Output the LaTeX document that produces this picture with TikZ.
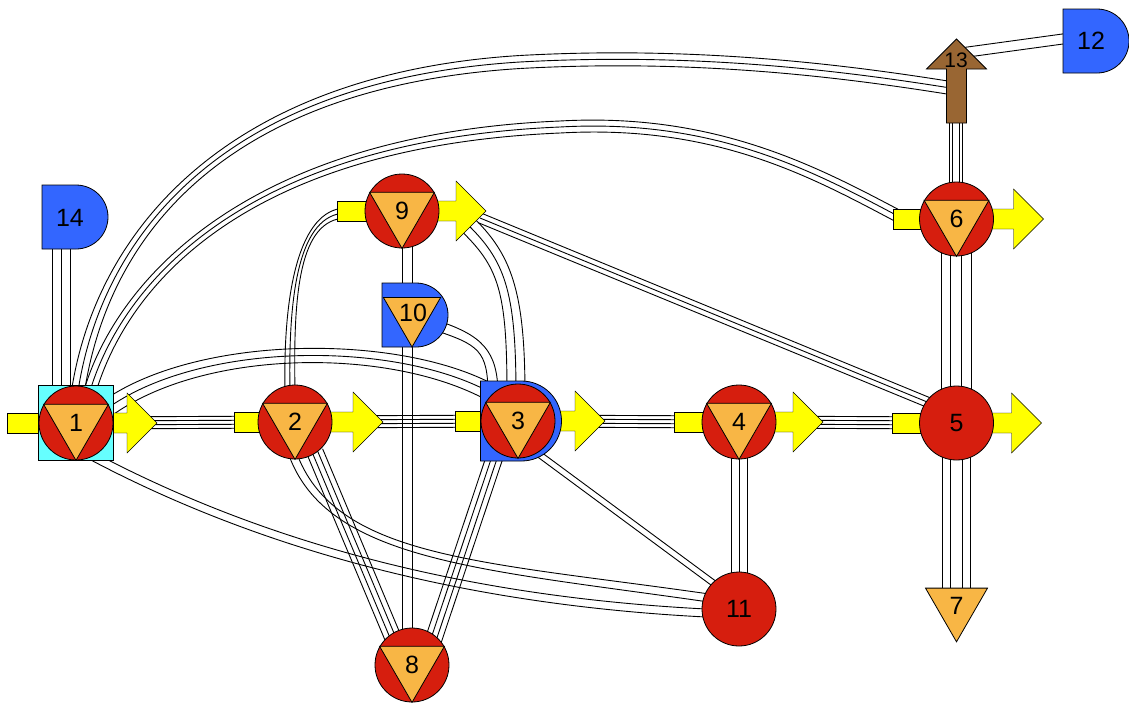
\documentclass[tikz,border=0pt]{standalone}
\usepackage{fontspec}
\setmainfont{Liberation Sans}
\usetikzlibrary{shapes.misc, shapes.geometric, calc}

\definecolor{procred}{RGB}{214,30,14}
\definecolor{triorange}{RGB}{248,182,69}
\definecolor{feedyellow}{RGB}{255,255,0}
\definecolor{boxcyan}{RGB}{102,255,255}
\definecolor{tankblue}{RGB}{51,102,255}
\definecolor{pumpbrown}{RGB}{153,102,51}

\pgfdeclarelayer{edges}
\pgfdeclarelayer{flow}
\pgfsetlayers{edges,flow,main}

\tikzset{
  ball/.style={circle, draw, fill=procred, minimum size=74pt, inner sep=0pt},
  tank/.style={rounded rectangle, rounded rectangle west arc=none, draw, fill=tankblue,
    minimum width=66pt, minimum height=64pt, inner sep=0pt},
  tri/.style={draw, fill=triorange},
  num/.style={font=\fontsize{25}{25}\selectfont, inner sep=0pt},
  flow/.style={draw, fill=feedyellow},
  lead/.style={draw=black, line width=0.9pt},
}

% yellow inlet bar and outlet arrow of a unit: node, inlet length, outlet shaft length
\newcommand{\feed}[3]{%
  \draw [flow] ([shift={(-#2,-10)}]#1.center) rectangle ([shift={(0,10)}]#1.center);
  \draw [flow] ([shift={(0,-10)}]#1.center) -- ++(#3,0) -- ++(0,-20) -- ++(30,30) -- ++(-30,30)
    -- ++(0,-20) -- ++(-#3,0) -- cycle;
}
% bundle of straight parallel leads: offsets, from, to
\newcommand{\wires}[3]{%
  \foreach \ofs in {#1}
    \draw [lead] ($(#2)!\ofs pt!90:(#3)$) -- ($(#3)!\ofs pt!-90:(#2)$);
}
% bundle of curved parallel leads: offsets, from, control, control, to
\newcommand{\bends}[5]{%
  \foreach \ofs in {#1}
    \draw [lead] ($(#2)!\ofs pt!90:(#3)$) .. controls ($(#3)!\ofs pt!-90:(#2)$)
      and ($(#4)!\ofs pt!90:(#5)$) .. ($(#5)!\ofs pt!-90:(#4)$);
}

\begin{document}
\begin{tikzpicture}[x=1pt, y=-1pt, line width=0.8pt]
\useasboundingbox (0,0) rectangle (1129,702);

% backings
\node [draw, fill=boxcyan, minimum size=75pt, inner sep=0pt] (s1) at (76,423) {};
\node [tank, minimum width=81pt, minimum height=80pt] (d3) at (521,421) {};

% units
\node [ball] (n1) at (76,423) {};
\node [ball] (n2) at (295,422) {};
\node [ball] (n3) at (518,421) {};
\node [ball] (n4) at (739,422) {};
\node [ball] (n5) at (956.5,423) {};
\node [ball] (n6) at (956.5,219) {};
\node [ball] (n8) at (412,665) {};
\node [ball] (n9) at (402,211) {};
\node [ball] (n11) at (739,609) {};

\foreach \n in {1,2,3,4,6,8,9}
  \draw [tri] (n\n.150) -- (n\n.30) -- (n\n.270) -- cycle;
\foreach \n in {1,2,3,4,5,6,8,9,11}
  \node [num] (t\n) at (n\n) {\n};

% tanks
\node [tank] (n14) at (75,217) {};
\node [num] (t14) at (70,218) {14};
\node [tank] (n12) at (1096,41) {};
\node [num] (t12) at (1091,41) {12};
\node [tank] (n10) at (415,315) {};
\draw [tri, shift={(n10.center)}] (-31.6,-17.5) -- (25.6,-17.5) -- (-3,32) -- cycle;
\node [num] (t10) at ([shift={(-2,-2)}]n10.center) {10};

% product
\node [regular polygon, regular polygon sides=3, shape border rotate=180, draw, fill=triorange,
  minimum size=71.6pt, inner sep=0pt, num] (n7) at (956.5,606) {7};

% pump
\coordinate (n13) at (956.5,81);
\draw [fill=pumpbrown, shift={(n13)}] (-10,42) -- (-10,-12) -- (-30,-12) -- (0,-42) -- (30,-12)
  -- (10,-12) -- (10,42) -- cycle;
\node [num, font=\fontsize{21}{21}\selectfont] (t13) at (956,60) {13};

\begin{pgfonlayer}{flow}
\feed{n1}{69}{51}
\feed{n2}{61}{58}
\feed{n3}{63}{57}
\feed{n4}{65}{54}
\feed{n5}{64}{55}
\feed{n6}{63}{57}
\feed{n9}{65}{54}
\end{pgfonlayer}

\begin{pgfonlayer}{edges}
% main line
\wires{-6,-2,2,6}{n1.center}{n2.center}
\wires{-6,-2,2,6}{n2.center}{n3.center}
\wires{-6,-2,2,6}{n3.center}{n4.center}
\wires{-6,-2,2,6}{n4.center}{n5.center}
% long arcs over the top
\bends{-6.5,0,6.5}{[shift={(1,-25)}]n1.center}{100,230}{230,80}{520,62}
\bends{-6.5,0,6.5}{520,62}{700,52}{850,72}{[shift={(-6,7)}]n13}
\bends{-6,0,6}{[shift={(12,-25)}]n1.center}{120,280}{250,140}{560,127}
\bends{-6,0,6}{560,127}{720,118}{820,175}{[shift={(-51,1)}]n6.center}
\bends{-8.5,0,8.5}{[shift={(29,-13)}]n1.center}{200,340}{400,340}{[shift={(-23,-26)}]n3.center}
\wires{-9,0,9}{[shift={(-14.5,0)}]n1.center}{[shift={(-13.5,0)}]n14.center}
% arcs underneath
\bends{-4,4}{[shift={(14,32)}]n1.center}{250,540}{450,600}{[shift={(-33,4)}]n11.center}
\bends{-4,4}{[shift={(-3,30)}]n2.center}{330,560}{480,565}{[shift={(-30,-11)}]n11.center}
% around 9 and 10
\bends{-5,0,5}{[shift={(-5,-32)}]n2.center}{288,290}{300,215}{[shift={(-57,2)}]n9.center}
\bends{-9,0,9}{[shift={(63,11)}]n9.center}{505,260}{516,290}{[shift={(-2,-26)}]n3.center}
\bends{-5,5}{[shift={(20,10)}]n10.center}{480,340}{493,350}{[shift={(-25,-26)}]n3.center}
\wires{-5,0,5}{[shift={(78,7)}]n9.center}{[shift={(-22,-18)}]n5.center}
\wires{-5,5}{[shift={(5.5,0)}]n9.center}{[shift={(-7.5,0)}]n10.center}
\wires{-5,5}{[shift={(-7.5,0)}]n10.center}{[shift={(-4.5,0)}]n8.center}
% down to 8 and 11
\wires{-8.25,-2.75,2.75,8.25}{[shift={(20,30)}]n2.center}{[shift={(-16,-20)}]n8.center}
\wires{-8.25,-2.75,2.75,8.25}{[shift={(-23,35)}]n3.center}{[shift={(18,-15)}]n8.center}
\wires{-3,3}{[shift={(22,34)}]n3.center}{[shift={(-23,-24)}]n11.center}
\wires{-8,0,8}{[shift={(0.5,0)}]n4.center}{[shift={(0.5,0)}]n11.center}
% right column
\wires{-15,-6,5,15}{n6.center}{n5.center}
\wires{-14,-6,6,14}{n5.center}{n7.center}
\wires{-6,-3,4,7}{n6.center}{n13}
\wires{-5,5}{[shift={(4,-28)}]n13}{[shift={(-26,-3)}]n12.center}
\end{pgfonlayer}

\end{tikzpicture}
\end{document}
